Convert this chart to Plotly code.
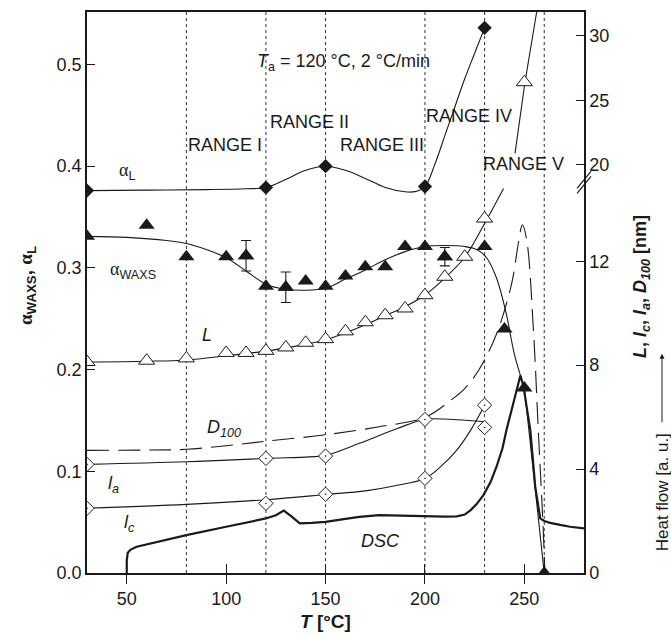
import plotly.graph_objects as go

# ---------------- data ----------------
range_bounds = [80, 120, 150, 200, 230, 260]

# alpha_L (filled diamonds, left axis)
alphaL_T = [30, 120, 150, 200, 230]
alphaL = [0.376, 0.379, 0.400, 0.380, 0.536]
alphaL_fit_T = [30, 60, 90, 110, 120, 130, 140, 150, 160, 170, 180, 190, 195, 200, 205, 210, 215, 220, 225, 230]
alphaL_fit = [0.376, 0.3765, 0.377, 0.3778, 0.379, 0.387, 0.396, 0.400, 0.396, 0.388, 0.379, 0.3748, 0.375,
              0.380, 0.402, 0.430, 0.458, 0.486, 0.511, 0.536]

# alpha_WAXS (filled triangles, left axis)
waxs_T = [30, 60, 80, 100, 110, 120, 130, 140, 150, 160, 170, 180, 190, 200, 210, 230, 240, 250, 260]
waxs = [0.331, 0.342, 0.311, 0.311, 0.312, 0.282, 0.281, 0.287, 0.282, 0.292, 0.301, 0.301, 0.321, 0.321,
        0.311, 0.321, 0.240, 0.182, 0.0]
waxs_err_T = [110, 130, 210]
waxs_err_v = [0.312, 0.281, 0.311]
waxs_err = [0.015, 0.015, 0.009]
waxs_fit_T = [30, 50, 70, 80, 90, 100, 110, 120, 130, 140, 150, 160, 170, 180, 190, 200, 210, 220, 226, 231,
              236, 241, 245, 250]
waxs_fit = [0.331, 0.330, 0.327, 0.324, 0.318, 0.310, 0.297, 0.284, 0.279, 0.278, 0.280, 0.289, 0.298, 0.308,
            0.316, 0.321, 0.322, 0.321, 0.318, 0.310, 0.290, 0.254, 0.215, 0.182]
waxs_tail_T = [250, 260]
waxs_tail = [0.182, 0.0]

# L (open triangles, right axis, nm)
L_T = [30, 60, 80, 100, 110, 120, 130, 140, 150, 160, 170, 180, 190, 200, 210, 220, 230, 250]
L_nm = [8.12, 8.17, 8.26, 8.47, 8.47, 8.55, 8.68, 8.86, 9.0, 9.3, 9.65, 9.92, 10.18, 10.69, 11.4, 12.17,
        13.64, 26.4]
L_fit_lo_T = [30, 60, 80, 100, 120, 140, 150, 160, 170, 180, 190, 200, 210, 220, 230, 239.5]
L_fit_lo = [8.12, 8.15, 8.2, 8.36, 8.54, 8.8, 8.97, 9.24, 9.55, 9.9, 10.25, 10.7, 11.35, 12.15, 13.45, 14.8]
L_fit_hi_T = [245.3, 250.3, 256.2, 257.5]
L_fit_hi = [20.87, 26.4, 31.86, 33.0]

# l_a, l_c (open diamonds with dot, right axis, nm)
la_T = [30, 120, 150, 200, 230]
la = [4.18, 4.41, 4.50, 5.91, 5.60]
la_fit_T = [30, 80, 120, 142, 150, 167, 186, 200, 216, 230]
la_fit = [4.18, 4.28, 4.41, 4.47, 4.52, 4.99, 5.56, 5.91, 5.90, 5.82]
lc_T = [30, 120, 150, 200, 230]
lc = [2.49, 2.68, 3.03, 3.64, 6.46]
lc_fit_T = [30, 80, 120, 150, 170, 185, 200, 208, 216, 223, 230]
lc_fit = [2.49, 2.64, 2.82, 3.02, 3.16, 3.36, 3.64, 4.10, 4.73, 5.50, 6.46]

# D100 (dashed, right axis, nm)
D_T = [30, 60, 80, 100, 120, 150, 177, 200, 213, 220, 227, 236, 243.6, 247, 249, 251.2, 254.6, 257, 259.5, 260.3]
D_nm = [4.72, 4.73, 4.76, 4.9, 5.07, 5.32, 5.63, 5.99, 6.65, 7.1, 7.8, 9.2, 11.14, 12.7, 13.4, 12.8, 9.3, 5.5,
        1.65, 0.0]

# DSC heat flow (right axis, a.u.)
dsc_T = [50, 50, 50.5, 52, 55, 80, 100, 120, 125, 129, 133, 137, 143, 150, 160, 167, 177, 190, 200, 210, 216,
         220, 223, 226, 229.4, 233, 236, 239, 241, 243, 245, 247, 248, 249.5, 251, 253, 255.5, 257, 258, 260,
         263, 268, 273, 280]
dsc = [0, 0.5, 0.78, 0.9, 1.01, 1.46, 1.78, 2.1, 2.22, 2.4, 2.17, 1.91, 1.93, 1.97, 2.08, 2.16, 2.23, 2.2, 2.17,
       2.17, 2.18, 2.25, 2.42, 2.65, 3.0, 3.5, 4.09, 4.8, 5.5, 6.1, 6.78, 7.35, 7.6, 7.2, 6.5, 5.5, 3.3, 2.5, 2.1,
       2.0, 1.93, 1.85, 1.78, 1.72]

x_ticks = [50, 100, 150, 200, 250]
left_ticks = [0.0, 0.1, 0.2, 0.3, 0.4, 0.5]
right_ticks = [0, 4, 8, 12, 20, 25, 30]


def brk(v):
    """broken right scale: linear below the break, compressed above."""
    return v if v <= 15.1 else 15.72 + (v - 20.0) * 0.495


def brk_list(vals):
    return [brk(v) for v in vals]


FONT = "Liberation Sans, Arial, sans-serif"
INK = "#1a1a1a"
ALPHA = "<span style='font-family:Liberation Serif'>α</span>"

fig = go.Figure()

line_k = dict(color=INK, width=1.1)

# DSC
fig.add_trace(go.Scatter(x=dsc_T, y=dsc, yaxis="y2", mode="lines",
                         line=dict(color=INK, width=2.2), hoverinfo="skip"))
# fit curves
fig.add_trace(go.Scatter(x=alphaL_fit_T, y=alphaL_fit, mode="lines", line_shape="spline", line=line_k))
fig.add_trace(go.Scatter(x=waxs_fit_T, y=waxs_fit, mode="lines", line_shape="spline", line=line_k))
fig.add_trace(go.Scatter(x=waxs_tail_T, y=waxs_tail, mode="lines", line=line_k))
fig.add_trace(go.Scatter(x=L_fit_lo_T, y=brk_list(L_fit_lo), yaxis="y2", mode="lines", line_shape="spline",
                         line=line_k))
fig.add_trace(go.Scatter(x=L_fit_hi_T, y=brk_list(L_fit_hi), yaxis="y2", mode="lines", line=line_k))
fig.add_trace(go.Scatter(x=la_fit_T, y=la_fit, yaxis="y2", mode="lines", line_shape="spline", line=line_k))
fig.add_trace(go.Scatter(x=lc_fit_T, y=lc_fit, yaxis="y2", mode="lines", line_shape="spline", line=line_k))
fig.add_trace(go.Scatter(x=D_T, y=D_nm, yaxis="y2", mode="lines", line_shape="spline",
                         line=dict(color=INK, width=1.1, dash="22px,9px")))

# markers
fig.add_trace(go.Scatter(x=alphaL_T, y=alphaL, mode="markers",
                         marker=dict(symbol="diamond", size=11, color=INK, line=dict(width=0))))
fig.add_trace(go.Scatter(x=waxs_T, y=waxs, mode="markers",
                         marker=dict(symbol="triangle-up", size=14, color=INK, line=dict(width=0))))
fig.add_trace(go.Scatter(x=waxs_err_T, y=waxs_err_v, mode="markers",
                         error_y=dict(type="data", array=waxs_err, visible=True, color=INK, thickness=1.1,
                                      width=5),
                         marker=dict(symbol="triangle-up", size=14, color=INK, line=dict(width=0))))
fig.add_trace(go.Scatter(x=L_T, y=brk_list(L_nm), yaxis="y2", mode="markers",
                         marker=dict(symbol="triangle-up", size=14, color="white", line=dict(color=INK, width=1))))
fig.add_trace(go.Scatter(x=la_T, y=la, yaxis="y2", mode="markers",
                         marker=dict(symbol="diamond-dot", size=11, color="white", line=dict(color=INK, width=1))))
fig.add_trace(go.Scatter(x=lc_T, y=lc, yaxis="y2", mode="markers",
                         marker=dict(symbol="diamond-dot", size=11, color="white", line=dict(color=INK, width=1))))
# carrier for the inside-tick overlay axis
fig.add_trace(go.Scatter(x=[None], y=[None], xaxis="x2", mode="markers", showlegend=False))

shapes = []
for b in range_bounds:
    shapes.append(dict(type="line", xref="x", yref="paper", x0=b, x1=b, y0=0, y1=1, layer="below",
                       line=dict(color="#333", width=1, dash="dot")))
# axis break marks on the right axis
W, H = 497.0, 563.0


def px(xp, yp):
    return (xp - 87) / W, (573 - yp) / H


for dy in (0, 5):
    xa, ya = px(577, 187 + dy)
    xb, yb = px(591, 170 + dy)
    shapes.append(dict(type="line", xref="paper", yref="paper", x0=xa, y0=ya, x1=xb, y1=yb,
                       line=dict(color=INK, width=1.2)))

ann = []


def txt(x, y, s, size=18, **kw):
    d = dict(x=x, y=y, xref="x", yref="y", text=s, showarrow=False, xanchor="center", yanchor="middle",
             font=dict(family=FONT, size=size, color=INK))
    d.update(kw)
    ann.append(d)


def ptxt(xp, yp, s, size=18, angle=0):
    x, y = px(xp, yp)
    ann.append(dict(x=x, y=y, xref="paper", yref="paper", text=s, showarrow=False, textangle=angle,
                    xanchor="center", yanchor="middle", font=dict(family=FONT, size=size, color=INK)))


txt(159, 0.502, "<i>T</i><sub>a</sub> = 120 °C, 2 °C/min")
txt(99.4, 0.421, "RANGE I")
txt(141.7, 0.443, "RANGE II")
txt(178.2, 0.421, "RANGE III")
txt(222.2, 0.449, "RANGE IV")
txt(249.8, 0.402, "RANGE V")
txt(50.1, 0.395, ALPHA + "<sub>L</sub>")
txt(53.1, 0.297, ALPHA + "<sub>WAXS</sub>")
txt(90.2, 0.234, "<i>L</i>")
txt(98.9, 0.142, "<i>D<sub>100</sub></i>")
txt(43.1, 0.0866, "<i>l<sub>a</sub></i>")
txt(51.6, 0.0484, "<i>l<sub>c</sub></i>")
txt(177.5, 0.0318, "<i>DSC</i>")

# axis titles
ptxt(325, 622, "<b><i>T</i> [°C]</b>", size=19)
ptxt(27, 285, "<b>" + ALPHA + "<sub>WAXS</sub>, " + ALPHA + "<sub>L</sub></b>", size=19, angle=-90)
ptxt(641, 286, "<b><i>L</i>, <i>l<sub>c</sub></i>, <i>l<sub>a</sub></i>, <i>D<sub>100</sub></i> [nm]</b>",
     size=18, angle=-90)
ptxt(662, 492, "Heat flow [a. u.]", size=17, angle=-90)
tx, ty = px(662, 353)
ann.append(dict(x=tx, y=ty, xref="paper", yref="paper", showarrow=True, text="",
                ax=0, ay=70, arrowhead=2, arrowsize=1, arrowwidth=1, arrowcolor=INK))

axis_common = dict(showgrid=False, zeroline=False, showline=True, linecolor=INK, linewidth=1.5,
                   tickcolor=INK, tickfont=dict(family=FONT, size=18, color=INK))

fig.update_layout(
    width=671, height=636,
    margin=dict(l=87, r=87, t=10, b=63),
    paper_bgcolor="white", plot_bgcolor="white",
    showlegend=False,
    xaxis=dict(range=[30, 280], tickvals=x_ticks, ticks="outside", ticklen=9, tickwidth=1.2, mirror=True,
               **axis_common),
    xaxis2=dict(range=[30, 280], overlaying="x", anchor="y", side="bottom", tickvals=x_ticks, ticks="inside",
                ticklen=9, tickwidth=1.2, tickcolor=INK, showticklabels=False, showline=False,
                showgrid=False, zeroline=False),
    yaxis=dict(range=[0, 0.5516], tickvals=left_ticks, tickformat=".1f", ticks="inside", ticklen=8,
               tickwidth=1.2, **axis_common),
    yaxis2=dict(range=[0, 21.59], overlaying="y", side="right", tickvals=brk_list(right_ticks),
                ticktext=[str(v) for v in right_ticks], ticks="inside", ticklen=8, tickwidth=1.2,
                **axis_common),
    shapes=shapes,
    annotations=ann,
)

fig.write_html("out.html")
